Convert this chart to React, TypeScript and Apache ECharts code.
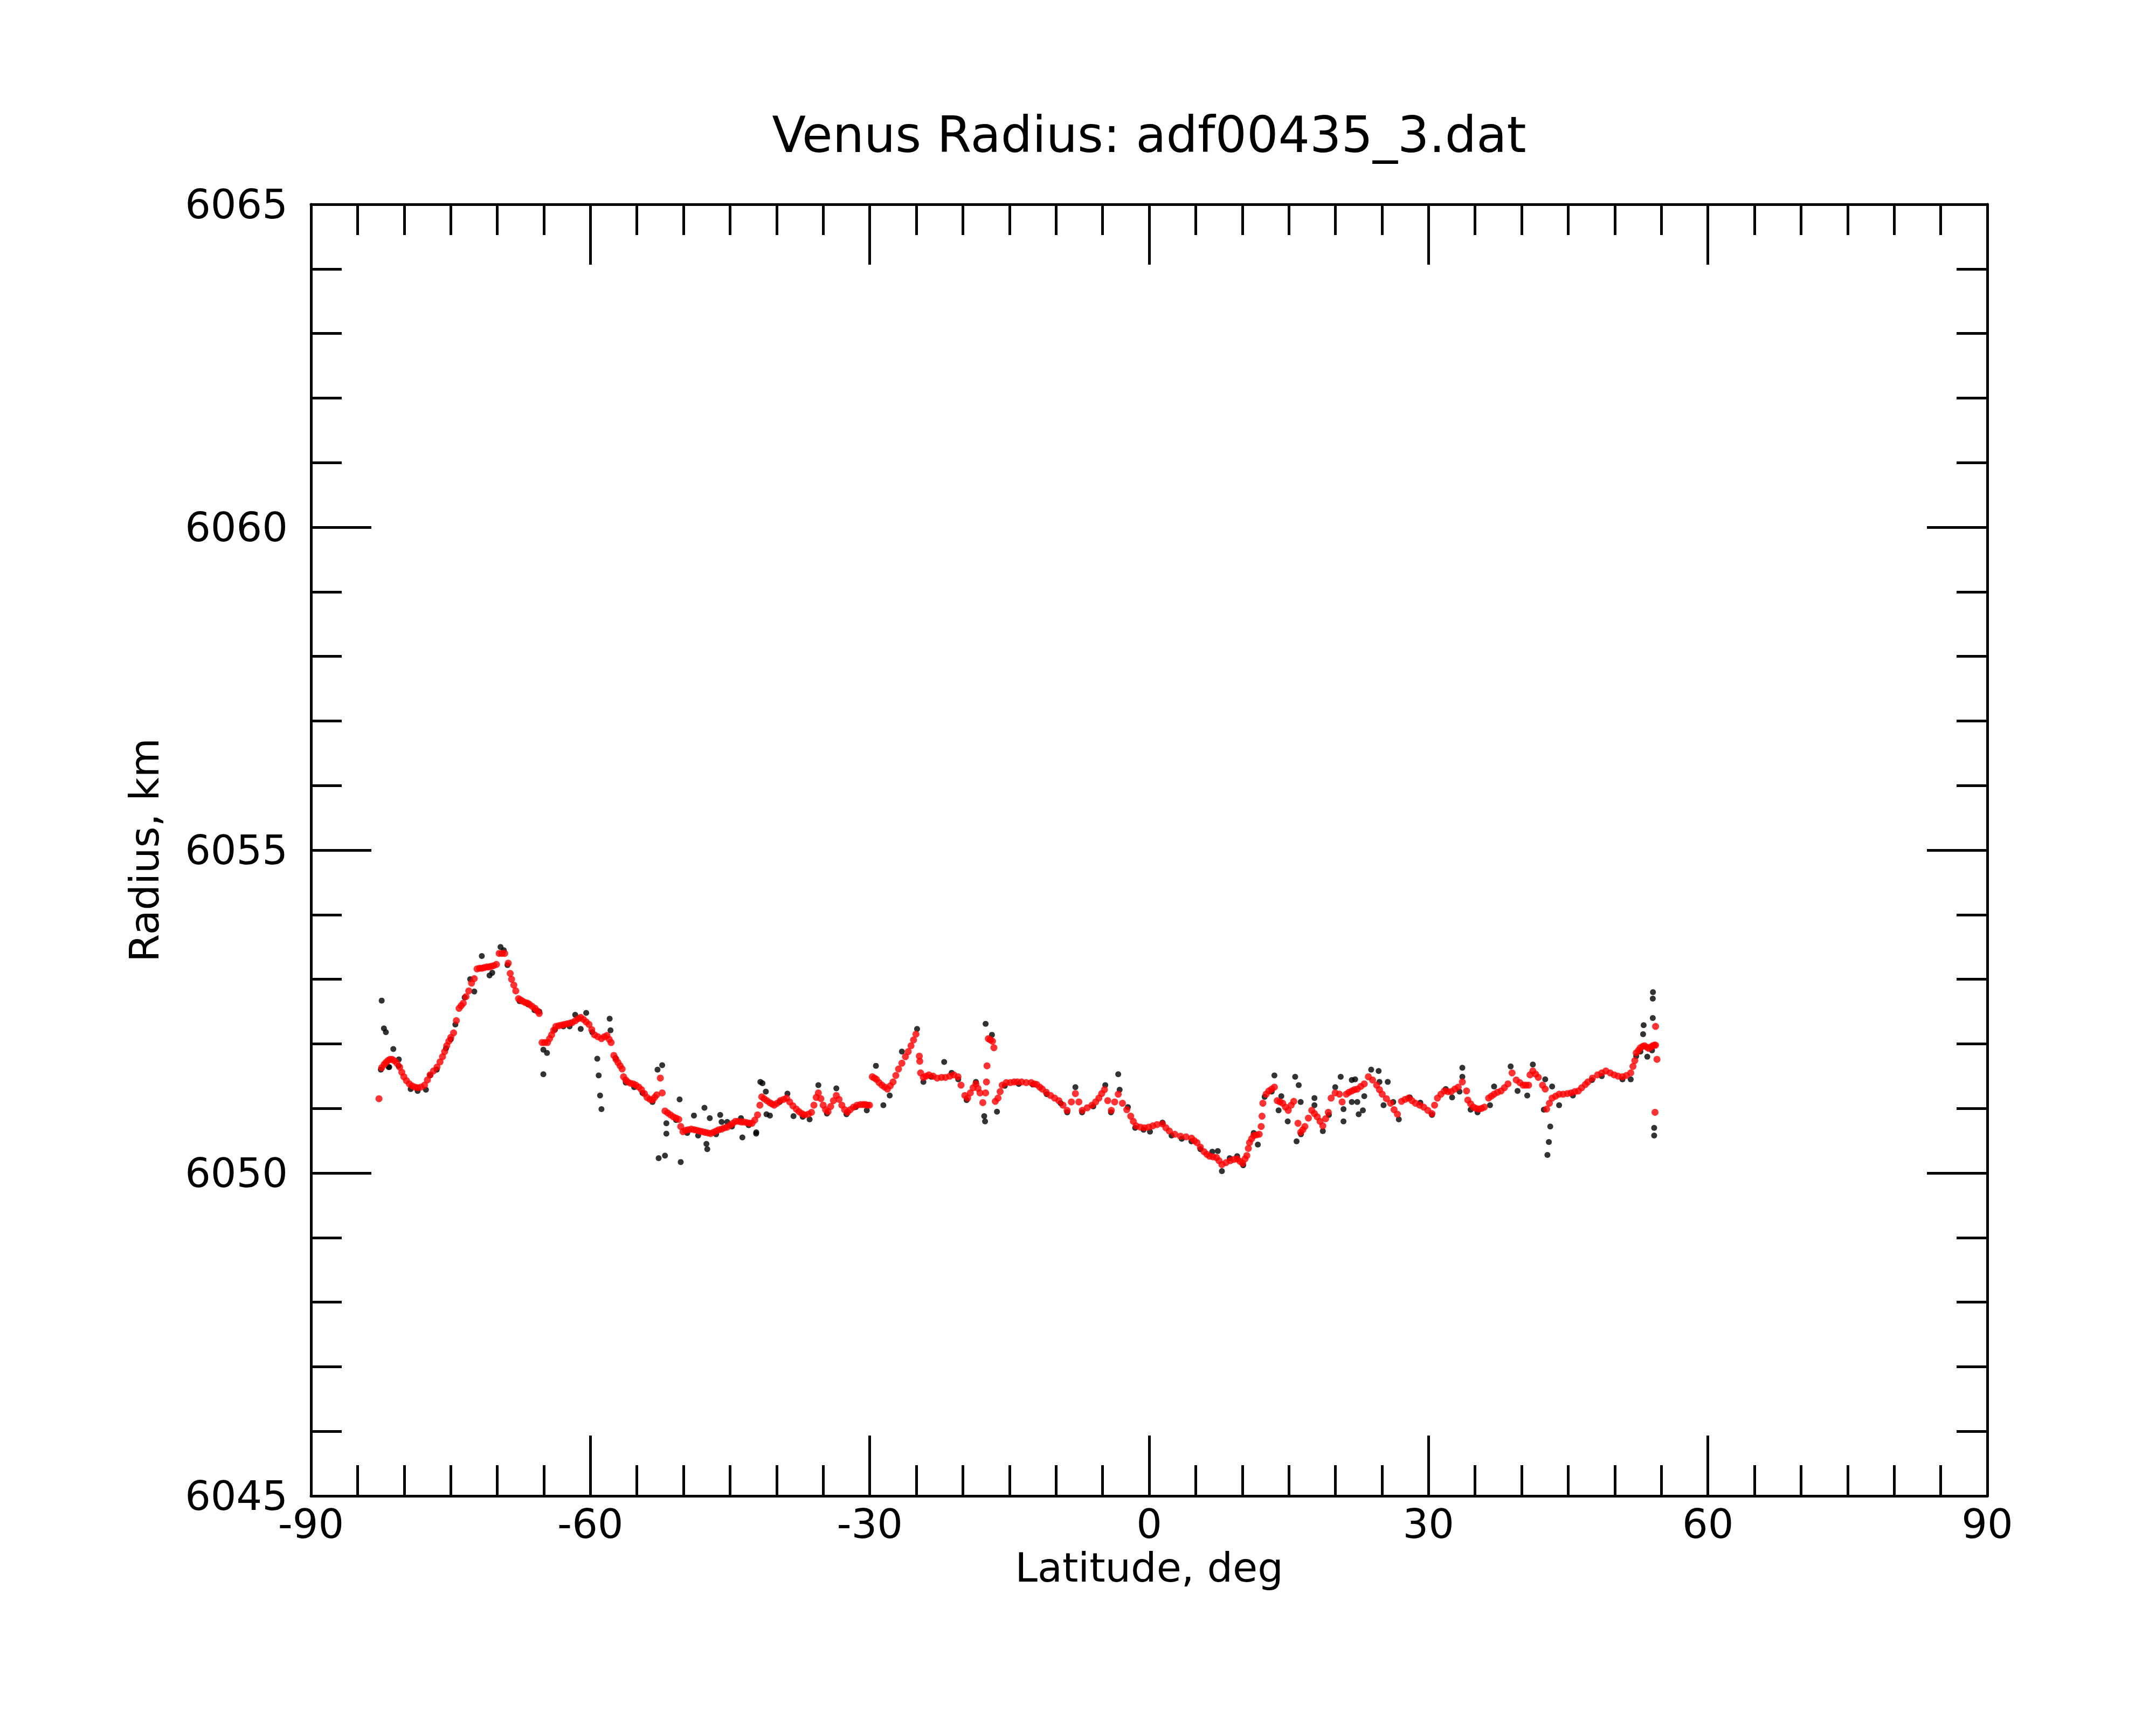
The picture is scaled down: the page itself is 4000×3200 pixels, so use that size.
import React, { useEffect, useRef } from "react";
import * as echarts from "echarts";

const TITLE = "Venus Radius: adf00435_3.dat";
const X_NAME = "Latitude, deg";
const Y_NAME = "Radius, km";
const X_TICKS = [-90, -60, -30, 0, 30, 60, 90];
const Y_TICKS = [6045, 6050, 6055, 6060, 6065];

// raw radius samples (black)
const RAW_POINTS: [number, number][] = [
  [-82.41, 6052.67], [-82.17, 6052.24], [-81.96, 6052.18], [-81.16, 6051.92], [-80.57, 6051.76], [-81.66, 6051.64],
  [-82.5, 6051.6], [-81.6, 6051.64], [-80.6, 6051.66], [-79.3, 6051.3], [-78.55, 6051.27], [-77.66, 6051.29],
  [-77.21, 6051.51], [-76.5, 6051.6], [-75.5, 6051.93], [-74.99, 6052.07], [-74.5, 6052.3], [-73.5, 6052.72],
  [-72.91, 6053.0], [-72.47, 6052.81], [-71.66, 6053.36], [-70.83, 6053.06], [-70.54, 6053.1], [-69.65, 6053.5],
  [-69.3, 6053.45], [-68.9, 6053.22], [-67.6, 6052.66], [-66.68, 6052.61], [-66.0, 6052.52], [-65.49, 6052.5],
  [-65.05, 6051.91], [-64.66, 6051.86], [-65.05, 6051.53], [-63.8, 6052.22], [-62.9, 6052.27], [-62.23, 6052.27],
  [-61.63, 6052.45], [-61.04, 6052.23], [-60.45, 6052.48], [-59.8, 6052.18], [-59.26, 6051.77], [-59.11, 6051.51],
  [-58.96, 6051.2], [-58.81, 6050.99], [-57.93, 6052.39], [-57.84, 6052.21], [-57.3, 6051.78], [-56.2, 6051.4],
  [-55.3, 6051.33], [-54.4, 6051.24], [-53.33, 6051.1], [-52.79, 6051.6], [-52.29, 6051.67], [-52.67, 6050.23],
  [-51.99, 6050.27], [-51.84, 6050.77], [-51.84, 6050.61], [-50.8, 6050.82], [-50.42, 6051.14], [-50.3, 6050.17],
  [-49.6, 6050.62], [-48.88, 6050.89], [-48.43, 6050.58], [-47.75, 6051.01], [-47.54, 6050.45], [-47.45, 6050.37],
  [-47.18, 6050.85], [-46.5, 6050.6], [-46.06, 6050.9], [-45.91, 6050.79], [-45.31, 6050.79], [-44.8, 6050.72],
  [-43.83, 6050.85], [-43.68, 6050.55], [-43.0, 6050.74], [-42.2, 6050.61], [-42.19, 6050.63], [-41.75, 6051.41],
  [-41.52, 6051.39], [-41.16, 6051.26], [-41.09, 6050.91], [-40.72, 6050.89], [-39.68, 6051.1], [-38.84, 6051.23],
  [-38.19, 6050.88], [-37.2, 6050.87], [-36.46, 6050.83], [-35.52, 6051.36], [-34.6, 6050.92], [-33.59, 6051.31],
  [-32.5, 6050.91], [-31.5, 6051.02], [-30.32, 6050.97], [-29.34, 6051.66], [-28.54, 6051.05], [-27.86, 6051.2],
  [-26.55, 6051.88], [-24.92, 6052.23], [-24.24, 6051.41], [-23.4, 6051.49], [-22.01, 6051.72], [-21.21, 6051.55],
  [-20.5, 6051.45], [-19.6, 6051.13], [-18.6, 6051.41], [-17.56, 6052.31], [-16.88, 6052.14], [-17.71, 6050.88],
  [-17.62, 6050.8], [-16.34, 6050.95], [-15.5, 6051.35], [-14.0, 6051.38], [-12.5, 6051.37], [-11.0, 6051.22],
  [-9.5, 6051.08], [-8.8, 6050.94], [-7.92, 6051.33], [-7.2, 6050.94], [-6.0, 6051.03], [-4.71, 6051.36],
  [-4.1, 6050.94], [-3.32, 6051.53], [-3.17, 6051.29], [-2.28, 6051.02], [-1.5, 6050.7], [-0.6, 6050.67],
  [0.09, 6050.64], [1.43, 6050.78], [2.41, 6050.58], [3.5, 6050.53], [4.54, 6050.49], [5.5, 6050.37],
  [6.78, 6050.33], [7.37, 6050.34], [7.81, 6050.03], [8.65, 6050.23], [9.45, 6050.26], [10.1, 6050.12],
  [11.23, 6050.62], [11.67, 6050.44], [12.4, 6051.18], [13.45, 6051.51], [13.16, 6051.26], [14.19, 6051.19],
  [13.9, 6050.97], [14.88, 6050.8], [15.68, 6051.49], [16.06, 6051.36], [15.83, 6050.49], [16.27, 6051.1],
  [16.3, 6050.6], [17.75, 6051.16], [17.75, 6051.05], [18.65, 6050.65], [19.3, 6050.9], [19.98, 6051.33],
  [20.57, 6051.49], [20.87, 6050.99], [20.87, 6050.8], [21.76, 6051.1], [21.76, 6051.44], [22.12, 6051.45],
  [22.35, 6051.1], [22.5, 6050.91], [22.95, 6050.97], [23.1, 6051.19], [23.84, 6051.6], [24.64, 6051.58],
  [24.73, 6051.41], [25.62, 6051.41], [25.17, 6051.05], [26.21, 6051.1], [26.81, 6050.83], [27.99, 6051.17],
  [29.12, 6051.09], [30.37, 6050.9], [31.85, 6051.3], [32.53, 6051.17], [33.63, 6051.63], [33.63, 6051.49],
  [33.33, 6051.26], [34.52, 6050.98], [35.26, 6050.94], [36.6, 6051.05], [37.04, 6051.34], [38.82, 6051.65],
  [39.56, 6051.27], [40.6, 6051.2], [41.2, 6051.68], [42.53, 6051.45], [43.27, 6051.34], [42.38, 6050.98],
  [43.07, 6050.72], [42.92, 6050.48], [42.77, 6050.28], [44.02, 6051.05], [45.5, 6051.2], [47.55, 6051.44],
  [48.6, 6051.5], [50.82, 6051.45], [51.71, 6051.45], [52.3, 6051.81], [52.75, 6051.88], [53.04, 6052.15],
  [53.1, 6052.29], [54.08, 6052.4], [54.08, 6052.7], [54.1, 6052.8], [53.49, 6051.8], [54.23, 6050.7],
  [54.23, 6050.58], [54.0, 6051.9],
];

// smoothed radius (red)
const SMOOTH_POINTS: [number, number][] = [
  [-82.7, 6051.15], [-82.41, 6051.63], [-82.15, 6051.68], [-81.96, 6051.71], [-81.75, 6051.74], [-81.52, 6051.76],
  [-81.3, 6051.76], [-81.07, 6051.74], [-80.78, 6051.7], [-80.48, 6051.64], [-80.25, 6051.56], [-80.03, 6051.49],
  [-79.75, 6051.43], [-79.44, 6051.38], [-79.15, 6051.35], [-78.85, 6051.33], [-78.55, 6051.32], [-78.2, 6051.33],
  [-77.81, 6051.36], [-77.5, 6051.44], [-77.21, 6051.52], [-76.85, 6051.58], [-76.47, 6051.64], [-76.15, 6051.72],
  [-75.88, 6051.8], [-75.65, 6051.88], [-75.43, 6051.97], [-75.2, 6052.04], [-74.99, 6052.1], [-74.69, 6052.17],
  [-74.39, 6052.36], [-74.1, 6052.55], [-73.88, 6052.59], [-73.65, 6052.63], [-73.36, 6052.73], [-73.06, 6052.82],
  [-72.76, 6052.94], [-72.47, 6053.01], [-72.17, 6053.16], [-71.9, 6053.17], [-71.65, 6053.17], [-71.43, 6053.18],
  [-71.15, 6053.19], [-70.9, 6053.19], [-70.68, 6053.2], [-70.4, 6053.21], [-70.09, 6053.23], [-69.8, 6053.4],
  [-69.5, 6053.4], [-69.2, 6053.4], [-68.82, 6053.25], [-68.61, 6053.09], [-68.46, 6053.0], [-68.22, 6052.91],
  [-68.01, 6052.82], [-67.72, 6052.7], [-67.5, 6052.68], [-67.27, 6052.66], [-67.0, 6052.64], [-66.75, 6052.63],
  [-66.53, 6052.61], [-66.25, 6052.58], [-65.94, 6052.55], [-65.7, 6052.51], [-65.49, 6052.47], [-65.19, 6052.02],
  [-64.9, 6052.02], [-64.6, 6052.02], [-64.38, 6052.08], [-64.16, 6052.14], [-63.95, 6052.21], [-63.71, 6052.27],
  [-63.4, 6052.28], [-63.1, 6052.29], [-62.82, 6052.3], [-62.5, 6052.31], [-62.2, 6052.32], [-61.93, 6052.33],
  [-61.6, 6052.36], [-61.3, 6052.39], [-61.04, 6052.41], [-60.75, 6052.38], [-60.45, 6052.34], [-60.15, 6052.3],
  [-59.85, 6052.22], [-59.56, 6052.14], [-59.2, 6052.11], [-58.81, 6052.08], [-58.5, 6052.11], [-58.22, 6052.13],
  [-57.98, 6052.07], [-57.78, 6052.02], [-57.48, 6051.82], [-57.25, 6051.76], [-57.03, 6051.71], [-56.8, 6051.66],
  [-56.59, 6051.61], [-56.44, 6051.49], [-56.2, 6051.44], [-56.0, 6051.41], [-55.7, 6051.39], [-55.4, 6051.38],
  [-55.11, 6051.36], [-54.8, 6051.33], [-54.51, 6051.29], [-54.2, 6051.23], [-53.92, 6051.17], [-53.6, 6051.14],
  [-53.33, 6051.13], [-53.1, 6051.17], [-52.88, 6051.21], [-52.49, 6051.47], [-52.29, 6051.24], [-51.99, 6050.96],
  [-51.7, 6050.93], [-51.4, 6050.9], [-51.1, 6050.87], [-50.8, 6050.85], [-50.51, 6050.83], [-50.3, 6050.72],
  [-50.06, 6050.64], [-49.8, 6050.66], [-49.5, 6050.67], [-49.17, 6050.68], [-48.85, 6050.67], [-48.55, 6050.66],
  [-48.28, 6050.65], [-47.98, 6050.64], [-47.68, 6050.63], [-47.38, 6050.62], [-47.09, 6050.61], [-46.8, 6050.63],
  [-46.5, 6050.65], [-46.2, 6050.67], [-45.9, 6050.68], [-45.6, 6050.7], [-45.31, 6050.71], [-45.0, 6050.74],
  [-44.7, 6050.77], [-44.42, 6050.8], [-44.1, 6050.8], [-43.8, 6050.79], [-43.53, 6050.79], [-43.2, 6050.78],
  [-42.9, 6050.77], [-42.64, 6050.77], [-42.35, 6050.82], [-42.05, 6050.9], [-41.8, 6051.05], [-41.6, 6051.18],
  [-41.35, 6051.15], [-41.05, 6051.12], [-40.75, 6051.09], [-40.5, 6051.07], [-40.26, 6051.05], [-39.95, 6051.08],
  [-39.6, 6051.12], [-39.25, 6051.14], [-38.93, 6051.16], [-38.6, 6051.1], [-38.25, 6051.04], [-37.89, 6050.99],
  [-37.6, 6050.95], [-37.3, 6050.92], [-37.0, 6050.9], [-36.6, 6050.91], [-36.26, 6050.94], [-36.0, 6051.05],
  [-35.75, 6051.17], [-35.52, 6051.24], [-35.25, 6051.15], [-35.0, 6051.05], [-34.75, 6050.98], [-34.48, 6050.95],
  [-34.2, 6051.03], [-33.9, 6051.12], [-33.59, 6051.2], [-33.3, 6051.14], [-33.0, 6051.05], [-32.7, 6050.98],
  [-32.4, 6050.94], [-32.1, 6050.98], [-31.75, 6051.02], [-31.36, 6051.05], [-31.0, 6051.06], [-30.7, 6051.06],
  [-30.47, 6051.06], [-30.25, 6051.05], [-30.03, 6051.05], [-29.73, 6051.49], [-29.5, 6051.47], [-29.28, 6051.45],
  [-29.0, 6051.4], [-28.69, 6051.36], [-28.4, 6051.33], [-28.1, 6051.3], [-27.8, 6051.35], [-27.5, 6051.41],
  [-27.2, 6051.51], [-26.91, 6051.61], [-26.55, 6051.7], [-26.17, 6051.8], [-25.87, 6051.88], [-25.57, 6051.97],
  [-25.3, 6052.06], [-25.04, 6052.15], [-24.68, 6051.81], [-24.63, 6051.73], [-24.54, 6051.55], [-24.24, 6051.48],
  [-23.95, 6051.5], [-23.65, 6051.52], [-23.2, 6051.5], [-22.76, 6051.47], [-22.3, 6051.48], [-21.87, 6051.48],
  [-21.4, 6051.5], [-20.98, 6051.52], [-20.53, 6051.49], [-20.2, 6051.36], [-19.79, 6051.2], [-19.49, 6051.16],
  [-19.2, 6051.24], [-18.9, 6051.32], [-18.6, 6051.38], [-18.38, 6051.31], [-18.16, 6051.24], [-17.86, 6051.09],
  [-17.56, 6051.24], [-17.47, 6051.41], [-17.41, 6051.66], [-17.27, 6052.08], [-17.05, 6052.06], [-16.82, 6052.04],
  [-16.67, 6051.94], [-16.52, 6051.11], [-16.23, 6051.16], [-16.0, 6051.26], [-15.78, 6051.36], [-15.34, 6051.4],
  [-14.9, 6051.4], [-14.5, 6051.41], [-14.15, 6051.41], [-13.7, 6051.41], [-13.2, 6051.4], [-12.67, 6051.4],
  [-12.35, 6051.38], [-12.07, 6051.37], [-11.75, 6051.33], [-11.48, 6051.3], [-11.05, 6051.25], [-10.59, 6051.2],
  [-10.15, 6051.16], [-9.7, 6051.12], [-9.25, 6051.05], [-8.81, 6050.97], [-8.35, 6051.1], [-7.92, 6051.23],
  [-7.55, 6051.1], [-7.18, 6050.97], [-6.65, 6051.01], [-6.14, 6051.05], [-5.75, 6051.1], [-5.4, 6051.16],
  [-5.1, 6051.23], [-4.8, 6051.29], [-4.45, 6051.12], [-4.06, 6050.97], [-3.7, 6051.1], [-3.32, 6051.22],
  [-2.87, 6051.08], [-2.4, 6050.98], [-1.98, 6050.88], [-1.7, 6050.8], [-1.39, 6050.73], [-0.95, 6050.71],
  [-0.5, 6050.7], [-0.05, 6050.71], [0.39, 6050.73], [0.85, 6050.75], [1.43, 6050.76], [1.8, 6050.7],
  [2.17, 6050.65], [2.75, 6050.6], [3.36, 6050.57], [3.96, 6050.56], [4.55, 6050.54], [4.85, 6050.5],
  [5.14, 6050.47], [5.5, 6050.4], [5.89, 6050.33], [6.2, 6050.29], [6.48, 6050.26], [6.85, 6050.25],
  [7.22, 6050.24], [7.5, 6050.19], [7.81, 6050.13], [8.25, 6050.16], [8.71, 6050.19], [9.1, 6050.21],
  [9.45, 6050.22], [9.75, 6050.18], [10.04, 6050.15], [10.3, 6050.22], [10.49, 6050.27], [10.65, 6050.38],
  [10.78, 6050.47], [11.0, 6050.53], [11.23, 6050.58], [11.52, 6050.59], [11.82, 6050.6], [12.03, 6050.72],
  [12.12, 6050.88], [12.21, 6051.08], [12.56, 6051.22], [12.85, 6051.27], [13.16, 6051.3], [13.45, 6051.33],
  [13.75, 6051.12], [14.05, 6051.1], [14.34, 6051.08], [14.64, 6051.02], [14.94, 6050.97], [15.25, 6051.05],
  [15.53, 6051.11], [15.98, 6050.77], [16.27, 6050.63], [16.5, 6050.67], [16.72, 6050.72], [17.1, 6050.85],
  [17.46, 6050.97], [17.75, 6050.92], [18.05, 6050.87], [18.35, 6050.8], [18.65, 6050.73], [18.95, 6050.84],
  [19.24, 6050.94], [19.54, 6051.16], [19.98, 6051.24], [20.43, 6051.22], [20.72, 6051.1], [21.17, 6051.22],
  [21.46, 6051.25], [21.76, 6051.27], [22.05, 6051.29], [22.35, 6051.3], [22.72, 6051.34], [23.1, 6051.38],
  [23.54, 6051.49], [23.99, 6051.44], [24.43, 6051.36], [24.73, 6051.29], [25.03, 6051.22], [25.48, 6051.15],
  [25.92, 6051.08], [26.3, 6050.98], [26.66, 6050.91], [27.1, 6051.11], [27.48, 6051.14], [27.85, 6051.16],
  [28.22, 6051.12], [28.59, 6051.08], [29.05, 6051.05], [29.48, 6051.02], [29.92, 6050.97], [30.37, 6050.92],
  [30.65, 6051.05], [30.96, 6051.16], [31.33, 6051.22], [31.7, 6051.27], [32.07, 6051.26], [32.44, 6051.26],
  [32.82, 6051.3], [33.19, 6051.33], [33.63, 6051.41], [34.08, 6051.27], [34.22, 6051.13], [34.52, 6051.07],
  [34.82, 6051.02], [35.1, 6051.0], [35.41, 6050.99], [35.7, 6051.0], [36.0, 6051.02], [36.45, 6051.16],
  [36.75, 6051.19], [37.04, 6051.22], [37.4, 6051.25], [37.79, 6051.27], [38.15, 6051.32], [38.53, 6051.38],
  [38.97, 6051.55], [39.42, 6051.44], [39.8, 6051.4], [40.16, 6051.36], [40.45, 6051.36], [40.75, 6051.36],
  [40.9, 6051.52], [41.2, 6051.58], [41.5, 6051.53], [41.79, 6051.48], [42.24, 6051.36], [42.53, 6051.3],
  [42.68, 6050.99], [42.98, 6051.08], [43.27, 6051.16], [43.65, 6051.19], [44.02, 6051.22], [44.45, 6051.22],
  [44.91, 6051.23], [45.3, 6051.24], [45.7, 6051.26], [46.09, 6051.27], [46.45, 6051.32], [46.84, 6051.37],
  [47.11, 6051.41], [47.6, 6051.47], [48.15, 6051.52], [48.6, 6051.55], [49.04, 6051.58], [49.5, 6051.55],
  [49.93, 6051.52], [50.35, 6051.5], [50.82, 6051.49], [51.25, 6051.51], [51.71, 6051.55], [51.95, 6051.65],
  [52.15, 6051.74], [52.3, 6051.86], [52.55, 6051.9], [52.75, 6051.94], [53.0, 6051.96], [53.19, 6051.97],
  [53.42, 6051.95], [53.64, 6051.93], [53.85, 6051.95], [54.08, 6051.97], [54.25, 6051.98], [54.38, 6051.98],
  [54.38, 6052.27], [54.53, 6051.76], [54.32, 6050.94],
];

const FONT = "DejaVu Sans";

export default function App() {
  const ref = useRef<HTMLDivElement>(null);

  useEffect(() => {
    document.body.style.margin = "0";
    if (!ref.current) return;
    const chart = echarts.init(ref.current, null, { renderer: "svg" });

    const xMin = X_TICKS[0];
    const xMax = X_TICKS[X_TICKS.length - 1];
    const yMin = Y_TICKS[0];
    const yMax = Y_TICKS[Y_TICKS.length - 1];

    const lineStyle = { color: "#000", width: 5 };
    const baseX = {
      type: "value" as const,
      min: xMin,
      max: xMax,
      interval: X_TICKS[1] - X_TICKS[0],
      axisLine: { show: true, onZero: false, lineStyle },
      axisTick: { show: true, inside: true, length: 112, lineStyle },
      minorTick: { show: true, splitNumber: 6, length: 57, lineStyle },
      splitLine: { show: false },
      minorSplitLine: { show: false },
    };
    const baseY = {
      type: "value" as const,
      min: yMin,
      max: yMax,
      interval: Y_TICKS[1] - Y_TICKS[0],
      axisLine: { show: true, onZero: false, lineStyle },
      axisTick: { show: true, inside: true, length: 112, lineStyle },
      minorTick: { show: true, splitNumber: 5, length: 57, lineStyle },
      splitLine: { show: false },
      minorSplitLine: { show: false },
    };
    const labelStyle = {
      fontSize: 75,
      color: "#000",
      fontFamily: FONT,
      formatter: (v: number) => String(v),
    };

    chart.setOption({
      animation: false,
      backgroundColor: "#ffffff",
      grid: { left: 577, right: 4000 - 3687, top: 379, bottom: 3200 - 2775, containLabel: false },
      graphic: [
        {
          type: "text",
          x: 2132,
          y: 250,
          style: {
            text: TITLE,
            fontSize: 92,
            fontFamily: FONT,
            fill: "#000",
            textAlign: "center",
            textVerticalAlign: "middle",
          },
        },
      ],
      xAxis: [
        {
          ...baseX,
          position: "bottom",
          axisLabel: { ...labelStyle, margin: 14 },
          name: X_NAME,
          nameLocation: "middle",
          nameGap: 95,
          nameTextStyle: { fontSize: 75, color: "#000", fontFamily: FONT },
        },
        {
          ...baseX,
          position: "top",
          axisLabel: { show: false },
        },
      ],
      yAxis: [
        {
          ...baseY,
          position: "left",
          axisLabel: { ...labelStyle, margin: 43 },
          name: Y_NAME,
          nameLocation: "middle",
          nameGap: 272,
          nameTextStyle: { fontSize: 75, color: "#000", fontFamily: FONT },
        },
        {
          ...baseY,
          position: "right",
          axisLabel: { show: false },
        },
      ],
      series: [
        {
          type: "scatter",
          name: "raw",
          xAxisIndex: 0,
          yAxisIndex: 0,
          data: RAW_POINTS,
          symbol: "circle",
          symbolSize: 11,
          itemStyle: { color: "#000000" },
          silent: true,
          z: 2,
        },
        {
          type: "scatter",
          name: "smoothed",
          xAxisIndex: 0,
          yAxisIndex: 0,
          data: SMOOTH_POINTS,
          symbol: "circle",
          symbolSize: 13,
          itemStyle: { color: "#ff0000" },
          silent: true,
          z: 3,
        },
      ],
    });

    return () => chart.dispose();
  }, []);

  return <div ref={ref} style={{ width: 4000, height: 3200, background: "#fff" }} />;
}
